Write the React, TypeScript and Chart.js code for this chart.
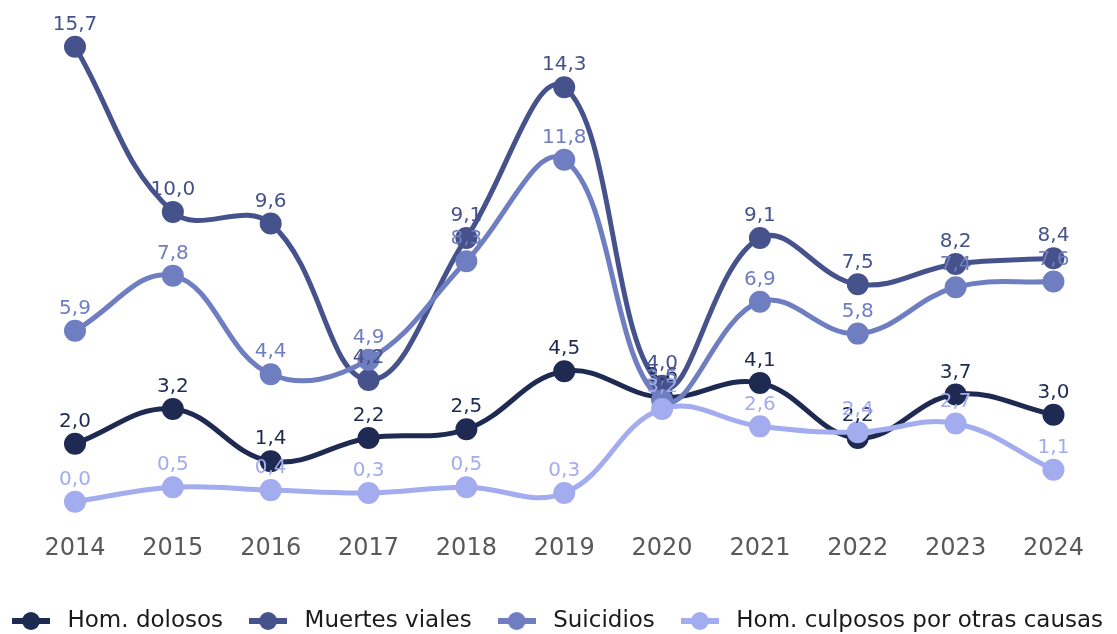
import React, { useEffect, useRef } from "react";
import { Chart, registerables } from "chart.js";

Chart.register(...registerables);

const years = ["2014", "2015", "2016", "2017", "2018", "2019", "2020", "2021", "2022", "2023", "2024"];
const homDolosos = [2.0, 3.2, 1.4, 2.2, 2.5, 4.5, 3.6, 4.1, 2.2, 3.7, 3.0];
const muertesViales = [15.7, 10.0, 9.6, 4.2, 9.1, 14.3, 4.0, 9.1, 7.5, 8.2, 8.4];
const suicidios = [5.9, 7.8, 4.4, 4.9, 8.3, 11.8, 3.5, 6.9, 5.8, 7.4, 7.6];
const homCulposos = [0.0, 0.5, 0.4, 0.3, 0.5, 0.3, 3.2, 2.6, 2.4, 2.7, 1.1];

const seriesNames = ["Hom. dolosos", "Muertes viales", "Suicidios", "Hom. culposos por otras causas"];
const seriesColors = ["#1f2a52", "#46528b", "#6f7ec1", "#a3acee"];
const labelColors = ["#1f2a52", "#46528b", "#6f7ec1", "#a3acee"];

const FONT = "'DejaVu Sans', sans-serif";

function makeMarker(color: string): HTMLCanvasElement {
  const c = document.createElement("canvas");
  c.width = 38;
  c.height = 20;
  const ctx = c.getContext("2d")!;
  ctx.strokeStyle = color;
  ctx.lineWidth = 6;
  ctx.beginPath();
  ctx.moveTo(0, 10);
  ctx.lineTo(38, 10);
  ctx.stroke();
  ctx.fillStyle = color;
  ctx.beginPath();
  ctx.arc(19, 10, 9, 0, Math.PI * 2);
  ctx.fill();
  return c;
}

const valueLabelPlugin = {
  id: "valueLabels",
  afterDatasetsDraw(chart: any) {
    const ctx = chart.ctx;
    ctx.save();
    ctx.font = `20px ${FONT}`;
    ctx.textAlign = "center";
    ctx.textBaseline = "middle";
    chart.data.datasets.forEach((ds: any, di: number) => {
      const meta = chart.getDatasetMeta(di);
      ctx.fillStyle = labelColors[di];
      meta.data.forEach((pt: any, i: number) => {
        const v = ds.data[i] as number;
        ctx.fillText(v.toFixed(1).replace(".", ","), pt.x, pt.y - 22);
      });
    });
    ctx.restore();
  },
};

export default function App() {
  const ref = useRef<HTMLCanvasElement | null>(null);

  useEffect(() => {
    document.body.style.margin = "0";
    const markers = seriesColors.map(makeMarker);
    const allData = [homDolosos, muertesViales, suicidios, homCulposos];
    const chart = new Chart(ref.current!, {
      type: "line",
      data: {
        labels: years,
        datasets: allData.map((d, i) => ({
          label: seriesNames[i],
          data: d,
          borderColor: seriesColors[i],
          backgroundColor: seriesColors[i],
          pointBackgroundColor: seriesColors[i],
          pointBorderColor: seriesColors[i],
          borderWidth: 5,
          pointRadius: 8.5,
          pointHoverRadius: 8.5,
          tension: 0.4,
          clip: false,
          order: 4 - i,
        })),
      },
      options: {
        animation: false,
        responsive: false,
        maintainAspectRatio: false,
        events: [],
        elements: { line: { capBezierPoints: false } },
        layout: { padding: { left: -14, right: -40, top: 38, bottom: -8.5 } },
        scales: {
          x: {
            grid: { display: false, drawTicks: false },
            border: { display: false },
            ticks: { color: "#595959", font: { family: FONT, size: 24 }, padding: 33 },
            afterFit: (scale: any) => {
              scale.height -= 7;
            },
          },
          y: {
            position: "left",
            min: 0,
            max: 16,
            grid: { display: false, drawTicks: false },
            border: { display: false },
            ticks: { display: false },
            afterFit: (scale: any) => {
              scale.width = 89;
            },
          },
          yRight: {
            position: "right",
            min: 0,
            max: 16,
            grid: { display: false, drawTicks: false },
            border: { display: false },
            ticks: { display: false },
            afterFit: (scale: any) => {
              scale.width = 95;
            },
          },
        },
        plugins: {
          tooltip: { enabled: false },
          legend: {
            position: "bottom",
            align: "start",
            labels: {
              usePointStyle: true,
              pointStyleWidth: 50,
              padding: 20,
              color: "#1a1a1a",
              font: { family: FONT, size: 23 },
              sort: (a: any, b: any) => a.datasetIndex - b.datasetIndex,
              generateLabels: (ch: any) => {
                const items = Chart.defaults.plugins.legend.labels.generateLabels(ch);
                return items.map((it: any) => ({ ...it, pointStyle: markers[it.datasetIndex] }));
              },
            },
          },
        },
      },
      plugins: [valueLabelPlugin],
    });
    return () => chart.destroy();
  }, []);

  return (
    <div style={{ width: 1117, height: 634, overflow: "hidden" }}>
      <canvas ref={ref} width={1117} height={634} style={{ width: 1117, height: 634, display: "block" }} />
    </div>
  );
}
